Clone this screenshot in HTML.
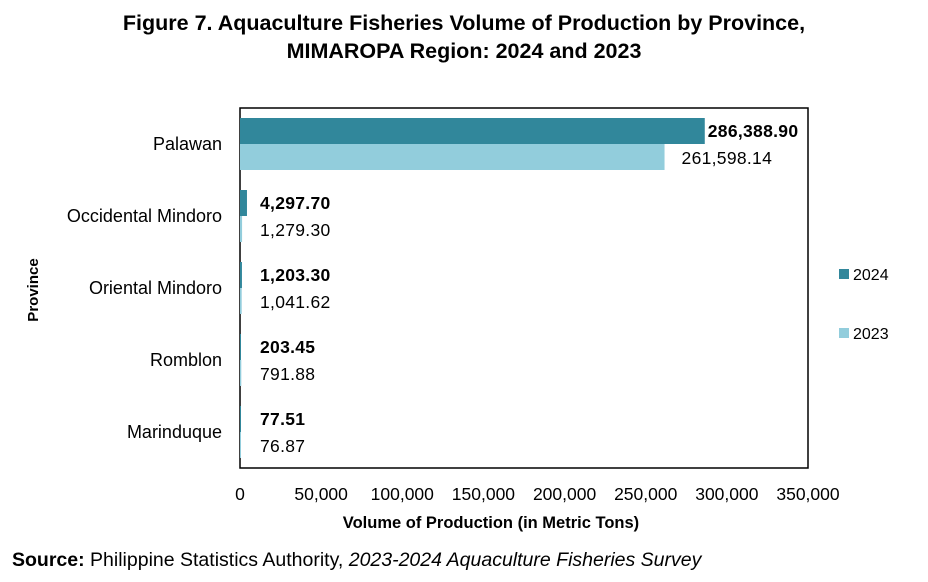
<!DOCTYPE html>
<html><head><meta charset="utf-8"><style>
body{margin:0;background:#fff;width:928px;height:577px;overflow:hidden;font-family:"Liberation Sans",Arial,sans-serif}
svg text{font-family:"Liberation Sans",Arial,sans-serif}
</style></head><body>
<svg width="928" height="577">
<text x="464" y="30" text-anchor="middle" font-size="21.5" font-weight="bold">Figure 7. Aquaculture Fisheries Volume of Production by Province,</text>
<text x="464" y="58" text-anchor="middle" font-size="21.5" font-weight="bold">MIMAROPA Region: 2024 and 2023</text>
<rect x="240" y="108" width="568" height="360" fill="none" stroke="#000" stroke-width="1.5"/>
<g id="bars"></g>
<text transform="translate(38,290) rotate(-90)" text-anchor="middle" font-size="15" font-weight="bold">Province</text>
<text x="491" y="528" text-anchor="middle" font-size="16.5" font-weight="bold">Volume of Production (in Metric Tons)</text>
<rect x="839" y="269" width="10" height="10" fill="#31879b"/>
<text x="853" y="280" font-size="16">2024</text>
<rect x="839" y="328" width="10" height="10" fill="#92cddc"/>
<text x="853" y="339" font-size="16">2023</text>
<text x="12" y="566" font-size="19.5"><tspan font-weight="bold">Source:</tspan>  Philippine Statistics Authority, <tspan font-style="italic">2023-2024 Aquaculture Fisheries Survey</tspan></text>
</svg>
<script>
const categories=["Palawan","Occidental Mindoro","Oriental Mindoro","Romblon","Marinduque"];
const values2024=[286388.90,4297.70,1203.30,203.45,77.51];
const values2023=[261598.14,1279.30,1041.62,791.88,76.87];
const labels2024=["286,388.90","4,297.70","1,203.30","203.45","77.51"];
const labels2023=["261,598.14","1,279.30","1,041.62","791.88","76.87"];
const xTicks=[0,50000,100000,150000,200000,250000,300000,350000];
const xTickLabels=["0","50,000","100,000","150,000","200,000","250,000","300,000","350,000"];
const X0=240,X1=808,Y0=108,Y1=468,XMAX=350000;
const xs=v=>X0+v/XMAX*(X1-X0);
const band=(Y1-Y0)/categories.length;
const ns="http://www.w3.org/2000/svg";
const g=document.getElementById('bars');
function mk(t,a,txt){const e=document.createElementNS(ns,t);for(const k in a)e.setAttribute(k,a[k]);if(txt!=null)e.textContent=txt;g.appendChild(e);return e;}
categories.forEach((c,i)=>{
 const cy=Y0+band*i+band/2;
 const bh=26;
 let r=mk('rect',{x:X0,y:cy-bh,width:Math.max(xs(values2024[i])-X0,1),height:bh,fill:'#31879b'});
 
 
 r=mk('rect',{x:X0,y:cy,width:Math.max(xs(values2023[i])-X0,1),height:bh,fill:'#92cddc'});
 
 
 let lx=Math.max(xs(values2024[i])+3,X0+20);
 let t=mk('text',{x:lx,y:cy-7,'font-size':17.5,'font-weight':'bold','letter-spacing':'0.3'},labels2024[i]);
 
 
 lx=Math.max(xs(values2023[i])+17,X0+20);
 t=mk('text',{x:lx,y:cy+20,'font-size':17.5,'letter-spacing':'0.3'},labels2023[i]);
 
 
 t=mk('text',{x:222,y:cy+6,'font-size':18,'text-anchor':'end'},c);
 
 
});
xTicks.forEach((v,i)=>{
 const t=mk('text',{x:xs(v),y:500,'font-size':17.5,'text-anchor':'middle'},xTickLabels[i]);
 
 
});
</script>
</body></html>
